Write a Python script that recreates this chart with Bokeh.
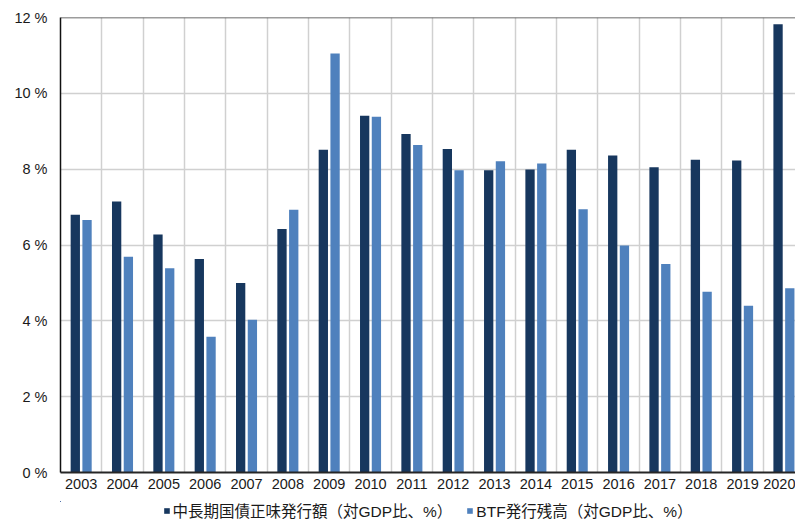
from bokeh.plotting import figure
from bokeh.layouts import column
from bokeh.models import ColumnDataSource, Range1d, FixedTicker, Legend, LegendItem, Span
from bokeh.transform import dodge
from bokeh.embed import file_html
from bokeh.resources import INLINE

# ---- data ----
years = ["2003", "2004", "2005", "2006", "2007", "2008", "2009", "2010", "2011",
         "2012", "2013", "2014", "2015", "2016", "2017", "2018", "2019", "2020"]
jgb_net_issuance = [6.80, 7.15, 6.28, 5.63, 5.00, 6.42, 8.51, 9.41, 8.93,
                    8.53, 7.97, 7.99, 8.51, 8.36, 8.05, 8.25, 8.23, 11.82]
btf_outstanding = [6.66, 5.69, 5.39, 3.58, 4.03, 6.93, 11.05, 9.38, 8.64,
                   7.97, 8.21, 8.15, 6.94, 5.99, 5.50, 4.77, 4.40, 4.86]
y_ticks = [0, 2, 4, 6, 8, 10, 12]
y_tick_labels = ["0 %", "2 %", "4 %", "6 %", "8 %", "10 %", "12 %"]
series_names = ["中長期国債正味発行額（対GDP比、%）", "BTF発行残高（対GDP比、%）"]

idx = list(range(len(years)))
source = ColumnDataSource(dict(x=idx, jgb=jgb_net_issuance, btf=btf_outstanding))

DARK = "#17375E"
LIGHT = "#4F81BD"
FONT = "Liberation Sans"
LEGEND_FONT = "Liberation Sans, Noto Sans CJK JP"

p = figure(width=795, height=495, output_backend="svg", toolbar_location=None,
           x_range=Range1d(-0.5, 17.28), y_range=Range1d(0, 12),
           min_border_left=60, min_border_right=0, min_border_top=17, min_border_bottom=23)
p.outline_line_color = None
p.background_fill_color = "white"
p.border_fill_color = "white"

r1 = p.vbar(x=dodge("x", -0.142), top="jgb", width=0.225, source=source,
            fill_color=DARK, line_color=None)
r2 = p.vbar(x=dodge("x", 0.142), top="btf", width=0.225, source=source,
            fill_color=LIGHT, line_color=None)

# grids
p.xgrid.ticker = FixedTicker(ticks=[i + 0.5 for i in idx])
p.xgrid.grid_line_color = "#d0d0d0"
p.xgrid.grid_line_width = 1.5
p.ygrid.ticker = FixedTicker(ticks=y_ticks)
p.ygrid.grid_line_color = "#d0d0d0"
p.ygrid.grid_line_width = 1.5
p.xgrid.level = "underlay"
p.ygrid.level = "underlay"

# axes
p.xaxis.ticker = FixedTicker(ticks=idx)
p.xaxis.major_label_overrides = {i: y for i, y in zip(idx, years)}
p.xaxis.major_tick_line_color = None
p.xaxis.minor_tick_line_color = None
p.xaxis.major_tick_out = 0
p.xaxis.major_tick_in = 0
p.xaxis.major_label_standoff = 6
p.xaxis.axis_line_color = "#262626"
p.xaxis.axis_line_width = 2
p.xaxis.major_label_text_font = FONT
p.xaxis.major_label_text_font_size = "14.5px"
p.xaxis.major_label_text_color = "#1a1a1a"

p.yaxis.ticker = FixedTicker(ticks=y_ticks)
p.yaxis.major_label_overrides = {t: l for t, l in zip(y_ticks, y_tick_labels)}
p.yaxis.major_tick_line_color = None
p.yaxis.minor_tick_line_color = None
p.yaxis.major_tick_out = 0
p.yaxis.major_tick_in = 0
p.yaxis.major_label_standoff = 13
p.yaxis.axis_line_color = "#111111"
p.yaxis.axis_line_width = 1.5
p.yaxis.major_label_text_font = FONT
p.yaxis.major_label_text_font_size = "14.5px"
p.yaxis.major_label_text_color = "#1a1a1a"

# top border line
p.add_layout(Span(location=12, dimension="width", line_color="#3a3a3a", line_width=1.3))

# ---- legend strip (separate small figure below the chart) ----
# same series again, with ranges that keep them fully out of view: only the legend shows
q = figure(width=795, height=24, output_backend="svg", toolbar_location=None,
           x_range=Range1d(1000, 1001), y_range=Range1d(-1000, -999),
           x_axis_type=None, y_axis_type=None,
           min_border_left=54, min_border_right=0, min_border_top=6, min_border_bottom=0)
q.outline_line_color = None
q.xgrid.visible = False
q.ygrid.visible = False
l1 = q.vbar(x="x", top="jgb", width=0.2, source=source, fill_color=DARK, line_color=None)
l2 = q.vbar(x="x", top="btf", width=0.2, source=source, fill_color=LIGHT, line_color=None)

legend = Legend(items=[LegendItem(label=series_names[0], renderers=[l1]),
                       LegendItem(label=series_names[1], renderers=[l2])],
                orientation="horizontal", location="center",
                padding=0, margin=0, spacing=14, label_standoff=3,
                glyph_width=7, glyph_height=7, label_height=16,
                label_text_font=LEGEND_FONT, label_text_font_size="15.5px",
                label_text_color="#1a1a1a",
                border_line_color=None, background_fill_alpha=0)
q.add_layout(legend, "center")

layout = column(p, q, spacing=0)
open("out.html", "w").write(file_html(layout, INLINE))
